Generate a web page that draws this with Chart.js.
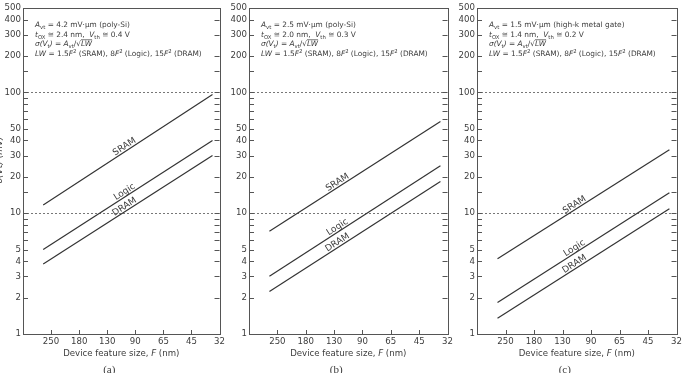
<!DOCTYPE html>
<html>
<head>
<meta charset="utf-8">
<script src="https://cdn.jsdelivr.net/npm/chart.js@4.4.1/dist/chart.umd.min.js"></script>
<style>
  html, body { margin: 0; padding: 0; background: #fff; }
  #wrap { position: relative; width: 685px; height: 373px; overflow: hidden; }
  canvas { position: absolute; top: 0; }
</style>
</head>
<body>
<div id="wrap">
  <canvas id="panelA" width="228" height="373" style="left:0px"></canvas>
  <canvas id="panelB" width="228" height="373" style="left:228px"></canvas>
  <canvas id="panelC" width="229" height="373" style="left:456px"></canvas>
</div>
<script>
// technology nodes (nm), one per category slot 1..7
const nodes = ['250', '180', '130', '90', '65', '45', '32'];
// lines run from just left of 250 nm to just left of 32 nm (slot units)
const lineSpan = [0.72, 6.75];

// sigma(Vt) in mV at the start / end of each line
const sramA = [11.7, 96];
const logicA = [5.0, 40];
const dramA = [3.8, 30];
const sramB = [7.1, 57.5];
const logicB = [3.0, 24.7];
const dramB = [2.25, 18.3];
const sramC = [4.2, 33.5];
const logicC = [1.82, 14.8];
const dramC = [1.35, 10.9];

const yMajor = [1, 2, 3, 4, 5, 10, 20, 30, 40, 50, 100, 200, 300, 400, 500];
const yMinor = [6, 7, 8, 9, 15, 60, 70, 80, 90, 150];
const refLevels = [10, 100];

const FONT = 'DejaVu Sans';
const INK = '#3c3c3c';

// text runs: [text, flags]  i=italic, b=subscript, p=superscript, o=overline
function notes(avt, gate, tox, vth) {
    return [
        [['A', 'i'], ['vt', 'b'], [' = ' + avt + ' mV·μm (' + gate + ')']],
        [['t', 'i'], ['OX', 'b'], [' ≅ ' + tox + ' nm,  '], ['V', 'i'], ['th', 'b'], [' ≅ ' + vth + ' V']],
        [['σ(V', 'i'], ['t', 'b'], [')', 'i'], [' = '], ['A', 'i'], ['vt', 'b'], ['/√'], ['LW', 'io']],
        [['LW', 'i'], [' = 1.5'], ['F', 'i'], ['2', 'p'], [' (SRAM), 8'], ['F', 'i'], ['2', 'p'],
         [' (Logic), 15'], ['F', 'i'], ['2', 'p'], [' (DRAM)']]
    ];
}

function drawRuns(ctx, x, y, runs, size) {
    runs.forEach(([txt, flags = '']) => {
        const small = flags.includes('b') || flags.includes('p');
        const fs = small ? size * 0.72 : size;
        ctx.font = (flags.includes('i') ? 'italic ' : '') + fs + 'px "' + FONT + '"';
        let dy = 0;
        if (flags.includes('b')) dy = size * 0.28;
        if (flags.includes('p')) dy = -size * 0.38;
        ctx.fillText(txt, x, y + dy);
        const w = ctx.measureText(txt).width;
        if (flags.includes('o')) {
            ctx.beginPath();
            ctx.lineWidth = 0.8;
            ctx.moveTo(x, y - size * 0.9);
            ctx.lineTo(x + w, y - size * 0.9);
            ctx.stroke();
        }
        x += w;
    });
}

const panelPlugin = {
    id: 'panelDeco',
    beforeDatasetsDraw(chart) {
        const { ctx, chartArea: a, scales: { y } } = chart;
        ctx.save();
        ctx.strokeStyle = '#777';
        ctx.lineWidth = 1;
        ctx.setLineDash([2, 2]);
        refLevels.forEach(v => {
            const py = Math.round(y.getPixelForValue(v)) + 0.5;
            ctx.beginPath();
            ctx.moveTo(a.left, py);
            ctx.lineTo(a.right, py);
            ctx.stroke();
        });
        ctx.restore();
    },
    afterDraw(chart, args, opts) {
        const { ctx, chartArea: a, scales: { x, y } } = chart;
        ctx.save();
        // frame
        ctx.strokeStyle = '#555';
        ctx.lineWidth = 1;
        ctx.strokeRect(Math.round(a.left) + 0.5, Math.round(a.top) + 0.5,
            Math.round(a.right - a.left), Math.round(a.bottom - a.top));
        // inward ticks
        ctx.beginPath();
        yMajor.concat(yMinor).forEach(v => {
            const py = Math.round(y.getPixelForValue(v)) + 0.5;
            ctx.moveTo(a.left, py); ctx.lineTo(a.left + 5, py);
            ctx.moveTo(a.right, py); ctx.lineTo(a.right - 5, py);
        });
        nodes.forEach((n, i) => {
            const px = Math.round(x.getPixelForValue(i + 1)) + 0.5;
            ctx.moveTo(px, a.bottom); ctx.lineTo(px, a.bottom - 4);
        });
        ctx.stroke();

        // series labels along the lines
        ctx.fillStyle = INK;
        ctx.font = '9px "' + FONT + '"';
        ctx.textAlign = 'center';
        ctx.textBaseline = 'alphabetic';
        chart.data.datasets.forEach((ds, i) => {
            const pts = chart.getDatasetMeta(i).data;
            const p0 = pts[0], p1 = pts[1];
            const ang = Math.atan2(p1.y - p0.y, p1.x - p0.x);
            const lx = x.getPixelForValue(opts.labelAt);
            const t = (lx - p0.x) / (p1.x - p0.x);
            const ly = p0.y + t * (p1.y - p0.y);
            ctx.save();
            ctx.translate(lx, ly);
            ctx.rotate(ang);
            ctx.fillText(ds.label, 0, -2);
            ctx.restore();
        });

        // annotation block
        ctx.textAlign = 'left';
        opts.notes.forEach((runs, i) => {
            drawRuns(ctx, a.left + 12, 27 + i * 9.7, runs, 7.4);
        });

        // axis title and panel letter
        const cx = (a.left + a.right) / 2;
        ctx.font = '8.6px "' + FONT + '"';
        const t1 = 'Device feature size, ', t2 = 'F', t3 = ' (nm)';
        const w1 = ctx.measureText(t1).width, w3 = ctx.measureText(t3).width;
        ctx.font = 'italic 8.6px "' + FONT + '"';
        const w2 = ctx.measureText(t2).width;
        let sx = cx - (w1 + w2 + w3) / 2;
        ctx.font = '8.6px "' + FONT + '"';
        ctx.fillText(t1, sx, 356);
        ctx.font = 'italic 8.6px "' + FONT + '"';
        ctx.fillText(t2, sx + w1, 356);
        ctx.font = '8.6px "' + FONT + '"';
        ctx.fillText(t3, sx + w1 + w2, 356);

        ctx.font = '11px "Liberation Serif"';
        ctx.textAlign = 'center';
        ctx.fillText(opts.letter, cx - 12, 373);

        if (opts.yTitle) {
            ctx.save();
            ctx.translate(0, 160);
            ctx.rotate(-Math.PI / 2);
            ctx.textBaseline = 'middle';
            ctx.font = 'italic 9px "' + FONT + '"';
            ctx.fillText('σ(Vt) (mV)', 0, 0);
            ctx.restore();
        }
        ctx.restore();
    }
};

function makePanel(id, sram, logic, dram, cfg) {
    const line = (label, vals) => ({
        label: label,
        data: [{ x: lineSpan[0], y: vals[0] }, { x: lineSpan[1], y: vals[1] }],
        borderColor: '#333',
        borderWidth: 1.2,
        pointRadius: 0,
        fill: false,
        tension: 0
    });
    const tickFont = { family: FONT, size: 8.6 };
    const noGrid = { display: false, drawTicks: false, tickLength: 0 };
    return new Chart(document.getElementById(id), {
        type: 'line',
        data: { datasets: [line('SRAM', sram), line('Logic', logic), line('DRAM', dram)] },
        options: {
            responsive: false,
            animation: false,
            devicePixelRatio: 1,
            layout: { padding: { top: 8, right: cfg.padRight, left: 0, bottom: 0 } },
            plugins: {
                legend: { display: false },
                tooltip: { enabled: false },
                panelDeco: { notes: cfg.notes, letter: cfg.letter, labelAt: cfg.labelAt, yTitle: cfg.yTitle }
            },
            scales: {
                x: {
                    type: 'linear', min: 0, max: 7,
                    grid: noGrid, border: { display: false },
                    afterBuildTicks: s => { s.ticks = nodes.map((n, i) => ({ value: i + 1 })); },
                    ticks: {
                        callback: v => nodes[v - 1] || '',
                        font: tickFont, color: INK, padding: 3, maxRotation: 0, autoSkip: false
                    },
                    afterFit: s => { s.height = 39; }
                },
                y: {
                    type: 'logarithmic', min: 1, max: 500,
                    grid: noGrid, border: { display: false },
                    afterBuildTicks: s => { s.ticks = yMajor.map(v => ({ value: v })); },
                    ticks: {
                        callback: v => String(v),
                        font: tickFont, color: INK, padding: 2, autoSkip: false
                    },
                    afterFit: s => { s.width = cfg.yWidth; }
                }
            }
        },
        plugins: [panelPlugin]
    });
}

makePanel('panelA', sramA, logicA, dramA, {
    notes: notes('4.2', 'poly-Si', '2.4', '0.4'), letter: '(a)', labelAt: 3.7,
    yWidth: 23, padRight: 2, yTitle: true
});
makePanel('panelB', sramB, logicB, dramB, {
    notes: notes('2.5', 'poly-Si', '2.0', '0.3'), letter: '(b)', labelAt: 3.2,
    yWidth: 21, padRight: 2, yTitle: false
});
makePanel('panelC', sramC, logicC, dramC, {
    notes: notes('1.5', 'high-k metal gate', '1.4', '0.2'), letter: '(c)', labelAt: 3.5,
    yWidth: 21, padRight: 4, yTitle: false
});
</script>
</body>
</html>
